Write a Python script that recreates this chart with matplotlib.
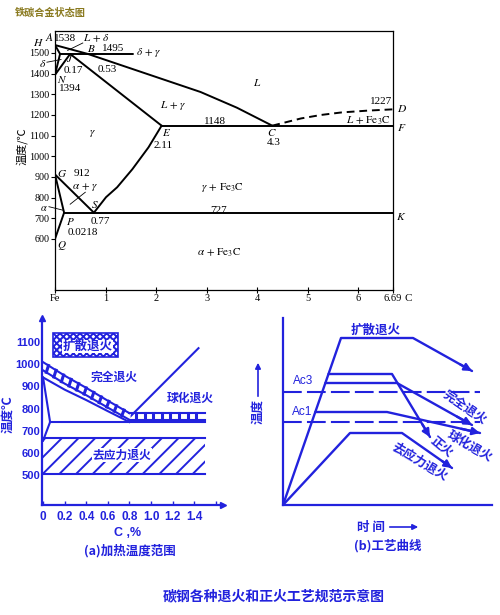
import numpy as np
import matplotlib.pyplot as plt
from matplotlib.patches import Rectangle, FancyArrowPatch

BLUE = '#2222dd'
CJK = ['Noto Sans CJK SC', 'DejaVu Sans']
SANS = ['Liberation Sans', 'DejaVu Sans']

plt.rcParams['font.family'] = ['Liberation Serif', 'DejaVu Serif']
plt.rcParams['mathtext.fontset'] = 'stix'
plt.rcParams['hatch.color'] = BLUE
plt.rcParams['hatch.linewidth'] = 1.4

# ---------------- Fe-Fe3C diagram (C %, deg C), left corner drawn enlarged ----------------
liq_c = [0, 0.65, 2.88, 3.6, 4.3]
liq_t = [1538, 1495, 1311, 1235, 1148]
ah_c, ah_t = [0, 0.1], [1538, 1495]
hjb_c, hjb_t = [0.1, 1.55], [1495, 1495]
nh_c, nh_t = [0, 0.1], [1394, 1495]
nj_c, nj_t = [0, 0.3], [1394, 1495]
je_c, je_t = [0.3, 2.11], [1495, 1148]
ecf_c, ecf_t = [2.11, 6.69], [1148, 1148]
cd_c = [4.3, 4.87, 5.27, 5.67, 6.2, 6.69]
cd_t = [1148, 1183, 1200, 1212, 1221, 1227]
es_c = [2.11, 1.85, 1.53, 1.23, 1.01, 0.77]
es_t = [1148, 1043, 937, 850, 802, 727]
gs_c, gs_t = [0, 0.77], [912, 727]
gpq_c, gpq_t = [0, 0.18, 0], [912, 727, 600]
psk_c, psk_t = [0.18, 6.69], [727, 727]

fe_xticks = [0, 1, 2, 3, 4, 5, 6, 6.69]
fe_xlabels = ['Fe', '1', '2', '3', '4', '5', '6', '6.69']
fe_yticks = [600, 700, 800, 900, 1000, 1100, 1200, 1300, 1400, 1500]

# text labels: (text, C, T)
fe_labels = [
    ('1538', 0.2, 1568), ('$L\\,+\\,\\delta$', 0.82, 1572), ('$B$', 0.72, 1519),
    ('1495', 1.15, 1519), ('$\\delta\\,+\\,\\gamma$', 1.85, 1500), ('0.17', 0.36, 1413),
    ('0.53', 1.03, 1418), ('$J$', 0.3, 1474), ('$N$', 0.14, 1372), ('1394', 0.3, 1326),
    ('$L$', 4.0, 1355), ('$L\\,+\\,\\gamma$', 2.35, 1244), ('$\\gamma$', 0.74, 1108),
    ('$E$', 2.2, 1113), ('2.11', 2.15, 1050), ('1148', 3.16, 1166), ('$C$', 4.29, 1113),
    ('4.3', 4.33, 1065), ('1227', 6.46, 1263), ('$L\\,+\\,\\mathrm{Fe_3C}$', 6.2, 1171),
    ('$G$', 0.14, 915), ('912', 0.54, 919), ('$\\alpha\\,+\\,\\gamma$', 0.6, 852),
    ('$\\gamma\\,+\\,\\mathrm{Fe_3C}$', 3.32, 847), ('$S$', 0.78, 769), ('727', 3.24, 736),
    ('0.77', 0.9, 682), ('$P$', 0.3, 682), ('0.0218', 0.56, 629), ('$Q$', 0.14, 566),
    ('$\\alpha\\,+\\,\\mathrm{Fe_3C}$', 3.24, 532),
]
fe_outside = [('$A$', -0.1, 1574, 8.3), ('$H$', -0.33, 1550, 8.3),
              ('$\\delta$', -0.24, 1447, 8.3), ('$D$', 6.86, 1229, 8.3),
              ('$F$', 6.86, 1137, 8.3), ('$K$', 6.86, 707, 8.3),
              ('$\\alpha$', -0.22, 748, 7.5)]

# ---------------- (a) heating ranges ----------------
a_yticks = [500, 600, 700, 800, 900, 1000, 1100]
a_xticks = [0, 0.2, 0.4, 0.6, 0.8, 1.0, 1.2, 1.4, 1.6]
a_xlabels = ['0', '0.2', '0.4', '0.6', '0.8', '1.0', '1.2', '1.4', '']
a_gs_c = [0, 0.2, 0.4, 0.6, 0.8]
a_gs_t = [940, 885, 838, 788, 739]
full_lo = [972, 912, 860, 804, 749]
full_hi = [1009, 948, 893, 835, 779]
sph_c, sph_lo, sph_hi = [0.8, 1.5], 749, 779
a_gpq_c, a_gpq_t = [0, 0.065, 0], [940, 739, 655]
a1_c, a1_t = [0.065, 1.5], [739, 739]
acm_c, acm_t = [0.8, 1.44], [760, 1072]
diff_c, diff_t = [0.09, 0.69], [1032, 1140]
stress_c, stress_t = [0.0, 1.5], [505, 665]

# ---------------- (b) process curves (time, temperature in arbitrary units) ----------------
b_diff_x, b_diff_y = [0, 5.8, 13.0, 18.9], [0, 16.7, 16.7, 13.4]
b_norm_x, b_norm_y = [4.55, 10.9, 14.7], [13.1, 13.1, 6.8]
b_full_x, b_full_y = [4.24, 11.4, 18.9], [12.2, 12.2, 8.0]
b_sph_x, b_sph_y = [3.23, 10.4, 19.7], [9.3, 9.3, 7.2]
b_str_x, b_str_y = [0, 6.7, 11.9, 16.9], [0, 7.2, 7.2, 3.7]
ac3, ac1 = 11.3, 8.3

W, H = 500, 615


def box(l, t, r, b):
    return [l / W, 1 - b / H, (r - l) / W, (b - t) / H]


fig = plt.figure(figsize=(5, 6.15), dpi=100)
fig.patch.set_facecolor('white')

fig.text(15 / W, 1 - 13 / H, '铁碳合金状态图', ha='left', va='center', fontsize=7.3,
         weight='bold', color='#8a7a20', family=CJK)

# ======== top diagram ========
ax = fig.add_axes(box(55, 31, 393, 290))
ax.set_xlim(0, 6.69)
ax.set_ylim(353, 1606)
for sp in ax.spines.values():
    sp.set_linewidth(0.9)
lw = 1.4
for xs, ys in [(liq_c, liq_t), (ah_c, ah_t), (hjb_c, hjb_t), (nh_c, nh_t), (nj_c, nj_t),
               (je_c, je_t), (ecf_c, ecf_t), (es_c, es_t), (gs_c, gs_t), (gpq_c, gpq_t),
               (psk_c, psk_t)]:
    ax.plot(xs, ys, color='black', lw=lw, solid_capstyle='round')
ax.plot(cd_c, cd_t, color='black', lw=lw, dashes=(4, 2.5))
# leader lines
ax.plot([0.55, 0.25], [1548, 1512], color='black', lw=0.6)
ax.plot([0.3, 0.6], [768, 826], color='black', lw=0.6)
ax.plot([-0.16, 0.12], [1455, 1468], color='black', lw=0.6, clip_on=False)
ax.plot([-0.12, 0.16], [756, 739], color='black', lw=0.6, clip_on=False)

ax.set_xticks(fe_xticks, fe_xlabels)
ax.set_yticks(fe_yticks)
ax.tick_params(axis='x', direction='inout', length=4, width=0.8, labelsize=7.5, pad=1)
ax.tick_params(axis='y', direction='out', length=3, width=0.8, labelsize=7.3, pad=1)
for txt, cx, ct in fe_labels:
    ax.text(cx, ct, txt, ha='center', va='center', fontsize=8)
for txt, cx, ct, fs in fe_outside:
    ax.text(cx, ct, txt, ha='center', va='center', fontsize=fs, clip_on=False)
fig.text(408 / W, 1 - 298 / H, 'C', ha='center', va='center', fontsize=8)
fig.text(22 / W, 1 - 146 / H, '温度/℃', rotation=90, ha='center', va='center',
         fontsize=8, family=CJK)

# ======== (a) heating temperature ranges ========
axa = fig.add_axes(box(42, 318, 223, 505))
axa.set_xlim(-0.01, 1.667)
axa.set_ylim(365, 1208)
for s in ['top', 'right']:
    axa.spines[s].set_visible(False)
for s in ['left', 'bottom']:
    axa.spines[s].set_color(BLUE)
    axa.spines[s].set_linewidth(1.6)
axa.plot(0, 1, '^', color=BLUE, ms=5, transform=axa.transAxes, clip_on=False)
axa.plot(1, 0, '>', color=BLUE, ms=5, transform=axa.transAxes, clip_on=False)
axa.set_yticks(a_yticks)
axa.set_xticks(a_xticks, a_xlabels)
axa.tick_params(axis='y', length=0, pad=1.5, labelsize=8, labelcolor=BLUE)
axa.tick_params(axis='x', direction='in', length=3, width=1, color=BLUE, pad=4,
                labelsize=8.5, labelcolor=BLUE)
for lab in axa.get_xticklabels() + axa.get_yticklabels():
    lab.set_family(SANS)
    lab.set_weight('bold')

alw = 1.5
# stress relief band
axa.add_patch(Rectangle((stress_c[0], stress_t[0]), stress_c[1] - stress_c[0],
                        stress_t[1] - stress_t[0], fill=False, hatch='//', lw=0,
                        edgecolor=BLUE))
axa.plot(stress_c, [stress_t[0]] * 2, color=BLUE, lw=alw)
axa.plot(stress_c, [stress_t[1]] * 2, color=BLUE, lw=alw)
axa.text(0.73, 590, '去应力退火', ha='center', va='center', fontsize=8.5, weight='bold',
         color=BLUE, family=CJK, bbox=dict(fc='white', ec='none', pad=0.5))
# Fe-C lines
axa.plot(a_gs_c, a_gs_t, color=BLUE, lw=alw)
axa.plot(a_gpq_c, a_gpq_t, color=BLUE, lw=alw)
axa.plot(a1_c, a1_t, color=BLUE, lw=alw)
axa.plot(acm_c, acm_t, color=BLUE, lw=alw)
# full annealing band
axa.fill_between(a_gs_c, full_lo, full_hi, color='white', zorder=2)
axa.plot(a_gs_c, full_lo, color=BLUE, lw=alw, zorder=3)
axa.plot(a_gs_c, full_hi, color=BLUE, lw=alw, zorder=3)
for cx in np.arange(0.03, 0.8, 0.07):
    axa.plot([cx, cx + 0.02], [np.interp(cx, a_gs_c, full_lo),
                               np.interp(cx + 0.02, a_gs_c, full_hi)],
             color=BLUE, lw=2.2, zorder=3)
# spheroidizing band
axa.plot(sph_c, [sph_lo] * 2, color=BLUE, lw=alw)
axa.plot(sph_c, [sph_hi] * 2, color=BLUE, lw=alw)
for cx in np.arange(0.86, 1.5, 0.08):
    axa.plot([cx, cx], [sph_lo, sph_hi], color=BLUE, lw=2.2)
# diffusion annealing box
axa.add_patch(Rectangle((diff_c[0], diff_t[0]), diff_c[1] - diff_c[0],
                        diff_t[1] - diff_t[0], fc='white', hatch='xxxxx',
                        edgecolor=BLUE, lw=1.2))
axa.text(0.41, 1080, '扩散退火', ha='center', va='center', fontsize=9, weight='bold',
         color=BLUE, family=CJK, bbox=dict(fc='white', ec='none', pad=0.3))
axa.text(0.66, 940, '完全退火', ha='center', va='center', fontsize=8.5, weight='bold',
         color=BLUE, family=CJK)
axa.text(1.36, 845, '球化退火', ha='center', va='center', fontsize=8.5, weight='bold',
         color=BLUE, family=CJK)

fig.text(8 / W, 1 - 414 / H, '温度℃', rotation=90, ha='center', va='center', fontsize=9,
         weight='bold', color=BLUE, family=CJK)
fig.text(128 / W, 1 - 533 / H, 'C ,%', ha='center', va='center', fontsize=9,
         weight='bold', color=BLUE, family=SANS)
fig.text(130 / W, 1 - 551 / H, '(a)加热温度范围', ha='center', va='center', fontsize=9,
         weight='bold', color=BLUE, family=CJK)

# ======== (b) process curves ========
axb = fig.add_axes(box(283, 318, 492, 505))
axb.set_xlim(0, 20.9)
axb.set_ylim(0, 18.7)
for s in ['top', 'right']:
    axb.spines[s].set_visible(False)
for s in ['left', 'bottom']:
    axb.spines[s].set_color(BLUE)
    axb.spines[s].set_linewidth(1.6)
axb.set_xticks([])
axb.set_yticks([])

blw = 1.7
axb.plot([0, 19.7], [ac3, ac3], color=BLUE, lw=1.5, dashes=(9, 2.5))
axb.plot([0, 19.7], [ac1, ac1], color=BLUE, lw=1.5, dashes=(9, 2.5))
for xs, ys in [(b_diff_x, b_diff_y), (b_norm_x, b_norm_y), (b_full_x, b_full_y),
               (b_sph_x, b_sph_y), (b_str_x, b_str_y)]:
    axb.plot(xs, ys, color=BLUE, lw=blw, solid_capstyle='round')
    x0, y0, x1, y1 = xs[-2], ys[-2], xs[-1], ys[-1]
    axb.annotate('', xy=(x1, y1), xytext=(x1 - 0.2 * (x1 - x0), y1 - 0.2 * (y1 - y0)),
                 arrowprops=dict(arrowstyle='-|>', color=BLUE, lw=blw,
                                 mutation_scale=11, shrinkA=0, shrinkB=0),
                 annotation_clip=False)

axb.text(2.0, 12.4, 'Ac3', ha='center', va='center', fontsize=8.5, color=BLUE, family=SANS)
axb.text(1.9, 9.3, 'Ac1', ha='center', va='center', fontsize=8.5, color=BLUE, family=SANS)
axb.text(9.3, 17.5, '扩散退火', ha='center', va='center', fontsize=9, weight='bold',
         color=BLUE, family=CJK)
axb.text(18.2, 9.8, '完全退火', ha='center', va='center', fontsize=9, weight='bold',
         color=BLUE, family=CJK, rotation=-35, clip_on=False)
axb.text(15.9, 5.8, '正火', ha='center', va='center', fontsize=9, weight='bold',
         color=BLUE, family=CJK, rotation=-40, clip_on=False)
axb.text(18.7, 5.9, '球化退火', ha='center', va='center', fontsize=9, weight='bold',
         color=BLUE, family=CJK, rotation=-30, clip_on=False)
axb.text(13.7, 4.3, '去应力退火', ha='center', va='center', fontsize=9, weight='bold',
         color=BLUE, family=CJK, rotation=-31, clip_on=False)

fig.text(258 / W, 1 - 411 / H, '温度', rotation=90, ha='center', va='center', fontsize=9,
         weight='bold', color=BLUE, family=CJK)
fig.patches.append(FancyArrowPatch(
    (258 / W, 1 - 399 / H), (258 / W, 1 - 360 / H), transform=fig.transFigure,
    arrowstyle='-|>', mutation_scale=8, color=BLUE, lw=1.2))
fig.text(371 / W, 1 - 527 / H, '时 间', ha='center', va='center', fontsize=9,
         weight='bold', color=BLUE, family=CJK)
fig.patches.append(FancyArrowPatch(
    (387 / W, 1 - 527 / H), (421 / W, 1 - 527 / H), transform=fig.transFigure,
    arrowstyle='-|>', mutation_scale=8, color=BLUE, lw=1.2))
fig.text(388 / W, 1 - 546 / H, '(b)工艺曲线', ha='center', va='center', fontsize=9,
         weight='bold', color=BLUE, family=CJK)

fig.text(274 / W, 1 - 596 / H, '碳钢各种退火和正火工艺规范示意图', ha='center', va='center',
         fontsize=10, weight='bold', color=BLUE, family=CJK)

fig.savefig('out.png', dpi=100, facecolor='white')
